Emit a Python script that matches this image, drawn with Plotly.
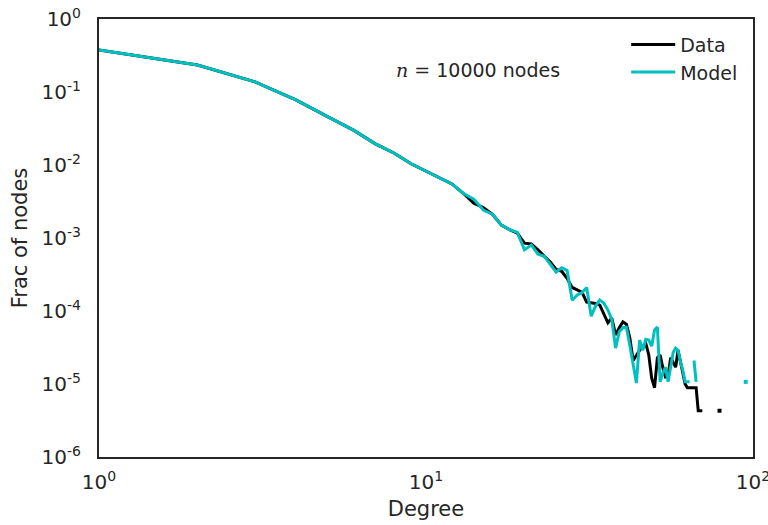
import math
import plotly.graph_objects as go

NaN = float("nan")

degree = list(range(1, 101))

data_frac = [
    0.376, 0.234, 0.138, 0.078, 0.046, 0.030, 0.0195, 0.0145, 0.0104, 0.0083,
    0.0066, 0.0055, 0.0041, 0.0030, 0.0026, 0.0021, 0.0015, 0.0013, 0.00117, 0.00085,
    0.00083, 0.00069, 0.00056, 0.00047, 0.00037, 0.00035, 0.00028, 0.00021, 0.000195, 0.00018,
    0.000132, 0.000129, 0.000127, 0.00012, 0.000089, 0.000069, 0.000080, 0.000047, 0.000059, 0.000071,
    0.000066, 0.000043, 0.000021, 0.000025, 0.000029, 0.000033, 0.000036, 0.000025, 0.000012, 0.0000089,
    0.000023, 0.000025, 0.0000166, 0.0000125, 0.000013, 0.000023, 0.0000195, 0.000017, 0.000029, 0.00002,
    0.0000155, 0.00001, 0.0000089, 0.0000089, 0.0000089, 0.0000089, 0.0000089, 0.0000043, 0.0000043, 0.0000043,
    NaN, NaN, NaN, NaN, NaN, NaN, NaN, NaN, 0.0000043, NaN,
    NaN, NaN, NaN, NaN, NaN, NaN, NaN, NaN, NaN, NaN,
    NaN, NaN, NaN, NaN, NaN, NaN, NaN, NaN, NaN, NaN,
]

model_frac = [
    0.376, 0.234, 0.138, 0.078, 0.046, 0.030, 0.0195, 0.0145, 0.0104, 0.0083,
    0.0066, 0.0055, 0.0041, 0.0034, 0.0024, 0.0021, 0.0015, 0.0013, 0.0012, 0.00069,
    0.00080, 0.00060, 0.00056, 0.00043, 0.00034, 0.00039, 0.00036, 0.00014, 0.000166, 0.000178,
    0.00021, 0.000085, 0.000117, 0.000141, 0.000128, 0.000103, 0.000076, 0.000031, 0.000052, 0.000059,
    0.000060, 0.000034, 0.000018, 0.0000103, 0.000040, 0.000029, 0.000041, 0.000040, 0.000033, 0.000055,
    0.00006, 0.0000107, 0.000014, 0.000017, 0.0000107, 0.000018, 0.000027, 0.000031, 0.000029, 0.00002,
    0.0000155, 0.0000107, 0.0000107, 0.0000107, NaN, 0.000021, 0.0000107, NaN, NaN, NaN,
    NaN, NaN, NaN, NaN, NaN, NaN, NaN, NaN, NaN, NaN,
    NaN, NaN, NaN, NaN, NaN, NaN, NaN, NaN, NaN, NaN,
    NaN, NaN, NaN, NaN, 0.0000107, NaN, NaN, NaN, NaN, NaN,
]

x_tickvals = [1, 10, 100]
x_ticktext = ["10<sup>0</sup>", "10<sup>1</sup>", "10<sup>2</sup>"]
y_tickvals = [1, 1e-1, 1e-2, 1e-3, 1e-4, 1e-5, 1e-6]
y_ticktext = ["10<sup>0</sup>", "10<sup>-1</sup>", "10<sup>-2</sup>", "10<sup>-3</sup>",
              "10<sup>-4</sup>", "10<sup>-5</sup>", "10<sup>-6</sup>"]

series = [("Data", data_frac, "black"), ("Model", model_frac, "#00BFBF")]

FONT = "DejaVu Sans"
TXT = "#262626"

fig = go.Figure()


def isolated(xs, ys):
    px, py = [], []
    for i, v in enumerate(ys):
        if math.isnan(v):
            continue
        left = i > 0 and not math.isnan(ys[i - 1])
        right = i < len(ys) - 1 and not math.isnan(ys[i + 1])
        if not left and not right:
            px.append(xs[i])
            py.append(v)
    return px, py


for name, ys, col in series:
    fig.add_trace(go.Scatter(x=degree, y=ys, mode="lines", name=name,
                             line=dict(color=col, width=3), connectgaps=False))
for name, ys, col in series:
    ix, iy = isolated(degree, ys)
    fig.add_trace(go.Scatter(x=ix, y=iy, mode="markers", showlegend=False,
                             marker=dict(color=col, size=4, symbol="square")))

axis_common = dict(
    type="log", showgrid=False, zeroline=False, showline=True, mirror=True,
    linecolor=TXT, linewidth=2, ticks="outside", tickcolor="rgba(0,0,0,0)",
    tickfont=dict(family=FONT, size=20, color=TXT), automargin=False,
    ticklabeloverflow="allow",
)

fig.update_layout(
    width=768, height=525,
    margin=dict(l=99, r=15, t=19, b=68),
    paper_bgcolor="white", plot_bgcolor="white",
    xaxis=dict(range=[0, 2], tickvals=x_tickvals, ticktext=x_ticktext, ticklen=6,
               title=dict(text="Degree", font=dict(family=FONT, size=21, color=TXT), standoff=8),
               **axis_common),
    yaxis=dict(range=[-6, 0], tickvals=y_tickvals, ticktext=y_ticktext, ticklen=12,
               title=dict(text="Frac of nodes", font=dict(family=FONT, size=21, color=TXT), standoff=8),
               **axis_common),
    legend=dict(x=0.985, y=0.985, xanchor="right", yanchor="top", bgcolor="rgba(0,0,0,0)",
                font=dict(family=FONT, size=19, color=TXT), itemwidth=44),
    showlegend=True,
    annotations=[dict(
        x=0.58, y=0.913, xref="paper", yref="paper", showarrow=False,
        text="<span style='font-family:\"DejaVu Serif\", serif'><i>n</i> =</span> 10000 nodes",
        font=dict(family=FONT, size=19, color=TXT),
    )],
)

fig.write_html("out.html", config={"displayModeBar": False},
               post_script="document.body.style.margin='0';document.body.style.overflow='hidden';")
